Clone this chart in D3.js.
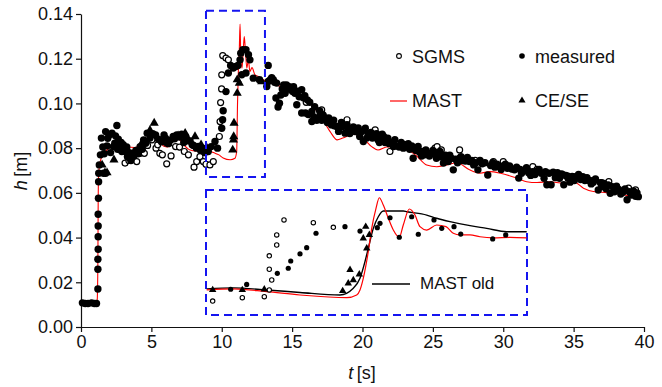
<!DOCTYPE html>
<html><head><meta charset="utf-8">
<script src="https://cdn.jsdelivr.net/npm/d3@7/dist/d3.min.js"></script>
<style>
html,body{margin:0;padding:0;background:#fff;}
svg{display:block;font-family:"Liberation Sans",Arial,Helvetica,sans-serif;}
</style></head>
<body><svg id="chart" width="662" height="387"></svg>
<script>
// ---------------- data ----------------
const xTicks = [0, 5, 10, 15, 20, 25, 30, 35, 40];
const yTicks = [0, 0.02, 0.04, 0.06, 0.08, 0.10, 0.12, 0.14];
const legendLabels = ["SGMS", "measured", "MAST", "CE/SE", "MAST old"];

// MAST (red line), [t, h]
const mast = [[0.1,0.0105],[1.05,0.0105],[1.15,0.012],[1.2,0.03],[1.22,0.055],[1.25,0.068],[1.3,0.0715],[1.4,0.0748],
[1.6,0.0775],[1.9,0.0795],[2.3,0.0815],[2.6,0.0825],[2.9,0.0822],[3.3,0.0805],[3.8,0.0803],[4.2,0.0808],[4.6,0.081],
[4.85,0.0835],[5.05,0.0865],[5.3,0.0855],[5.6,0.083],[5.9,0.0808],[6.15,0.0805],[6.45,0.083],[6.75,0.0845],[7.0,0.0838],
[7.3,0.0815],[7.7,0.0793],[8.2,0.0787],[8.6,0.0795],[9.0,0.0792],[9.4,0.078],[9.8,0.077],[10.1,0.0756],[10.6,0.0748],
[10.94,0.0755],[11.06,0.0785],[11.12,0.0997],[11.18,0.1143],[11.25,0.1247],[11.3,0.1355],[11.35,0.1218],[11.44,0.1158],
[11.53,0.124],[11.6,0.1299],[11.67,0.1247],[11.78,0.1158],[11.89,0.1195],[12.0,0.1143],[12.15,0.116],[12.36,0.1128],
[12.6,0.112],[12.95,0.1106],[13.3,0.1095],[13.9,0.1083],[14.6,0.1061],[15.3,0.1038],[16.0,0.1016],[16.5,0.0986],
[17.1,0.0936],[17.7,0.0874],[18.2,0.0837],[18.6,0.0845],[19.35,0.0862],[20.06,0.0843],[20.65,0.0807],[21.1,0.0792],
[21.7,0.0805],[22.43,0.0807],[23.14,0.0795],[23.85,0.0765],[24.56,0.0725],[25.27,0.0717],[26.0,0.0725],[26.7,0.0735],
[27.6,0.0703],[28.35,0.0688],[29.06,0.0695],[29.8,0.0688],[30.95,0.0666],[31.66,0.065],[32.4,0.0646],[33.3,0.065],
[34.27,0.0643],[35.0,0.065],[35.7,0.0621],[36.4,0.0606],[37.35,0.0601],[38.3,0.0595],[39.5,0.058],[39.7,0.058]];

// measured (filled circles), [t, h]
const measured = [[0.1,0.0108],[0.3,0.0105],[0.5,0.0105],[0.75,0.0108],[0.95,0.0105],[1.1,0.0105],
[1.2,0.017],[1.2,0.0258],[1.2,0.0303],[1.22,0.0348],[1.22,0.0404],[1.22,0.0452],[1.22,0.0504],[1.24,0.0576],[1.25,0.065],[1.26,0.0688],
[1.3,0.0725],[1.38,0.077],[1.45,0.0845],[1.55,0.0805],[1.6,0.0688],[1.65,0.0775],[1.75,0.0688],[1.75,0.0874],[1.85,0.081],[1.9,0.0844],
[2.0,0.0859],[2.1,0.078],[2.2,0.0867],[2.3,0.0807],[2.4,0.0822],[2.45,0.0855],[2.55,0.0901],[2.6,0.0795],[2.65,0.084],[2.75,0.0822],
[2.85,0.0825],[2.9,0.0785],[3.0,0.0815],[3.05,0.0795],[3.15,0.0785],[3.25,0.0805],[3.3,0.0762],[3.45,0.0755],[3.55,0.0745],[3.6,0.0777],
[3.75,0.0765],[3.9,0.079],[4.05,0.0775],[4.2,0.0807],[4.35,0.0795],[4.45,0.0837],[4.6,0.0822],[4.7,0.0867],[4.9,0.0845],[5.1,0.0865],
[5.3,0.0859],[5.5,0.084],[5.7,0.083],[5.9,0.0859],[6.0,0.0845],[6.2,0.082],[6.35,0.0835],[6.55,0.0852],[6.65,0.0842],[6.8,0.0859],
[7.0,0.085],[7.15,0.0862],[7.3,0.0825],[7.45,0.0845],[7.55,0.0833],[7.75,0.0832],[7.9,0.0815],[8.0,0.0812],[8.2,0.08],[8.35,0.0808],
[8.5,0.079],[8.65,0.08],[8.8,0.078],[8.95,0.0795],
[9.04,0.0785],[9.25,0.0807],[9.52,0.083],[9.7,0.08],[10.0,0.0889],[10.06,0.0927],[10.1,0.0967],[10.3,0.1053],[10.47,0.1136],
[10.63,0.117],[10.82,0.1158],[11.0,0.1165],[11.15,0.117],[11.3,0.1195],[11.35,0.1225],[11.5,0.124],[11.72,0.124],[11.9,0.1218],
[12.0,0.1195],[11.42,0.1128],[11.72,0.1136],[12.24,0.1113],[12.67,0.1106],[13.2,0.1076],[13.3,0.117],
[13.3,0.1098],[13.45,0.1106],[13.55,0.1115],[13.66,0.1106],[13.75,0.1095],[13.85,0.1024],[13.9,0.1091],[14.0,0.0984],[14.1,0.1001],
[14.2,0.1038],[14.3,0.1065],[14.4,0.1083],[14.5,0.1045],[14.6,0.1083],[14.7,0.1068],[14.8,0.1075],[14.9,0.1061],[15.04,0.1053],
[15.1,0.1075],[15.2,0.1045],[15.33,0.0994],[15.4,0.1055],[15.5,0.103],[15.68,0.1061],[15.68,0.0957],[15.8,0.1025],[15.9,0.1035],
[15.95,0.0957],[16.08,0.1016],[16.15,0.095],[16.25,0.1005],[16.4,0.0964],[16.4,0.0919],[16.55,0.094],[16.6,0.0985],[16.75,0.0925],
[16.86,0.0934],[16.95,0.0968],[17.0,0.0957],[17.1,0.0925],[17.2,0.0949],[17.35,0.0935],[17.5,0.0915],[17.6,0.0935],[17.7,0.0912],
[17.8,0.0904],[17.95,0.0925],[18.0,0.09],[18.17,0.0897],[18.3,0.0875],[18.4,0.0893],[18.5,0.0915],[18.6,0.0897],[18.76,0.0867],
[18.9,0.0905],[19.0,0.0885],[19.1,0.0865],[19.2,0.0878],[19.35,0.0895],[19.47,0.0874],[19.6,0.0874],[19.7,0.089],[19.8,0.0852],
[19.95,0.0875],[20.06,0.083],[20.2,0.0889],[20.3,0.0845],[20.4,0.0865],[20.5,0.0859],[20.6,0.087],[20.7,0.0845],[20.9,0.0852],
[21.0,0.0865],[21.1,0.0838],[21.2,0.0825],[21.3,0.084],[21.4,0.0862],[21.5,0.0852],[21.6,0.0825],[21.7,0.0835],[21.8,0.0845],
[21.9,0.082],[22.05,0.0825],[22.2,0.0807],[22.3,0.0838],[22.4,0.081],[22.6,0.0805],[22.75,0.0825],[22.9,0.08],[23.0,0.0815],
[23.1,0.0805],[23.25,0.082],[23.35,0.0795],[23.5,0.081],[23.6,0.0755],[23.7,0.0795],[23.8,0.079],[23.95,0.0808],[24.05,0.0782],
[24.2,0.0765],[24.3,0.0785],[24.4,0.077],[24.5,0.0792],[24.6,0.0778],[24.75,0.0765],[24.9,0.0775],[25.0,0.079],[25.1,0.0775],
[25.25,0.0755],[25.4,0.077],[25.5,0.0785],[25.6,0.076],[25.75,0.0733],[25.9,0.0768],[26.0,0.0748],[26.1,0.074],[26.2,0.0768],
[26.3,0.0755],[26.45,0.0703],[26.6,0.075],[26.75,0.0735],[26.9,0.0755],[27.0,0.0762],[27.1,0.0745],[27.3,0.0742],[27.45,0.0758],
[27.6,0.074],[27.75,0.0745],[27.9,0.0725],[28.05,0.0735],[28.2,0.0703],[28.35,0.0745],[28.5,0.073],[28.7,0.0735],[28.9,0.068],
[29.1,0.0722],[29.25,0.0735],[29.4,0.0715],[29.55,0.0728],[29.7,0.0718],[29.85,0.0705],[30.0,0.072],[30.15,0.0728],[30.3,0.071],
[30.45,0.072],[30.6,0.0707],[30.8,0.0703],[30.95,0.0715],[31.1,0.0666],[31.2,0.0705],[31.3,0.0688],[31.5,0.07],[31.65,0.0712],
[31.8,0.069],[31.95,0.0678],[32.1,0.0695],[32.25,0.0682],[32.4,0.0698],[32.55,0.0705],[32.7,0.0688],[32.9,0.0665],[33.0,0.0695],
[33.1,0.0636],[33.25,0.0688],[33.4,0.0636],[33.55,0.0692],[33.7,0.0668],[33.85,0.069],[34.0,0.0665],[34.15,0.0685],[34.3,0.0636],
[34.45,0.0678],[34.6,0.0665],[34.75,0.0648],[34.9,0.0673],[35.05,0.0655],[35.2,0.067],[35.35,0.0682],[35.5,0.066],[35.65,0.0672],
[35.8,0.0655],[35.95,0.0668],[36.1,0.0655],[36.25,0.064],[36.4,0.0648],[36.55,0.0662],[36.75,0.0613],[36.9,0.0645],[37.0,0.0628],
[37.15,0.0642],[37.3,0.0618],[37.45,0.0635],[37.6,0.0598],[37.75,0.0628],[37.9,0.0605],[38.05,0.063],[38.2,0.0615],[38.35,0.0595],
[38.5,0.0603],[38.65,0.0618],[38.8,0.0569],[38.95,0.0605],[39.1,0.059],[39.25,0.0608],[39.4,0.0585],[39.5,0.06],[39.6,0.0583]];

// SGMS (open circles), [t, h]
const sgms = [[3.13,0.0733],[3.4,0.0745],[3.96,0.074],[4.2,0.0777],[4.5,0.0777],[4.73,0.0812],[5.04,0.0837],[5.33,0.08],
[5.45,0.0815],[5.6,0.0777],[5.78,0.077],[6.09,0.073],[6.4,0.0765],[6.72,0.0807],[7.0,0.0805],[7.34,0.0785],[7.63,0.077],
[8.03,0.0715],[8.22,0.074],[8.45,0.0762],[8.69,0.074],[8.88,0.0728],[9.16,0.0725],[9.4,0.074],[9.83,0.0852],[9.88,0.0919],
[9.92,0.1004],[9.99,0.1065],[10.0,0.1128],[10.07,0.1214],[10.3,0.1203],[10.47,0.1195],
[14.5,0.1065],[16.0,0.1005],[17.1,0.0971],[18.9,0.0927],[20.9,0.0882],[21.95,0.0785],[22.9,0.0815],[24.0,0.079],[25.15,0.08],
[25.3,0.0807],[25.6,0.0792],[26.9,0.0792],[28.0,0.0745],[29.3,0.074],[30.0,0.074],[31.66,0.0703],[32.1,0.0717],[32.4,0.0705],
[34.27,0.068],[34.6,0.0675],[35.0,0.0673],[36.2,0.0655],[37.0,0.0646],[37.5,0.065],[38.9,0.0621],[39.4,0.0613]];

// CE/SE (triangles), [t, h]
const cese = [[1.5,0.0725],[1.7,0.069],[1.85,0.069],[2.34,0.0748],[2.9,0.079],[3.4,0.0785],[4.3,0.082],[4.9,0.088],
[5.2,0.0912],[5.85,0.0825],[6.2,0.082],[6.9,0.0855],[7.4,0.0867],[7.6,0.0842],[8.1,0.0852],[8.53,0.0815],[8.95,0.080],
[10.78,0.0792],[10.83,0.0837],[10.85,0.0852],[10.87,0.0912],[11.1,0.1046],[11.1,0.1106],[11.25,0.1091],[12.84,0.1098]];

// ---- inset (zoom of the dashed window) ----
const insetWindowT = [8.88, 13.07];
const insetWindowH = [0.0671, 0.1414];
const insetSgms = [[8.967,0.0754],[9.354,0.0774],[9.641,0.078],[9.706,0.082],[9.738,0.0879],[9.706,0.0943],[9.706,0.1023],
[9.803,0.1087],[9.803,0.1147],[9.898,0.1236],[10.281,0.122],[10.542,0.1192]];
const insetMeasured = [[9.202,0.0824],[9.411,0.0853],[9.811,0.0919],[9.954,0.0949],[9.986,0.0992],[10.107,0.1034],[10.194,0.1071],
[10.316,0.1157],[10.694,0.1196],[10.89,0.117],[11.116,0.119],[11.151,0.1216],[11.282,0.1249],[11.403,0.1133],[11.565,0.1255],
[11.651,0.1151],[11.856,0.1236],[11.957,0.1186],[12.117,0.1196],[12.205,0.1152],[12.622,0.1123],[12.792,0.1147]];
const insetCese = [[8.967,0.082],[9.354,0.082],[9.641,0.0824],[10.664,0.0814],[10.737,0.0859],[10.803,0.0879],[10.76,0.0939],
[10.881,0.0913],[10.978,0.1067],[10.933,0.1127],[10.965,0.1196],[11.012,0.1147]];
const insetMast = [[8.889,0.082],[9.236,0.0826],[9.672,0.081],[10.107,0.079],[10.717,0.0774],[10.847,0.079],[10.89,0.082],
[10.933,0.0889],[10.998,0.1047],[11.043,0.1186],[11.099,0.1305],[11.142,0.1368],[11.194,0.1325],[11.26,0.1246],[11.325,0.1176],
[11.403,0.1133],[11.455,0.1206],[11.534,0.1301],[11.608,0.1265],[11.673,0.1196],[11.761,0.1176],[11.891,0.1206],[12.013,0.1196],
[12.108,0.1157],[12.195,0.1147],[12.326,0.1147],[12.456,0.1136],[12.63,0.113],[12.848,0.1133],[13.066,0.113]];
const insetMastOld = [[8.889,0.0826],[9.236,0.0832],[9.672,0.082],[10.107,0.0805],[10.629,0.079],[10.803,0.083],[10.89,0.0889],
[10.955,0.0988],[10.998,0.1067],[11.064,0.1186],[11.129,0.1255],[11.194,0.1289],[11.455,0.1289],[11.5,0.1285],[11.761,0.1265],
[11.891,0.1246],[12.065,0.1226],[12.326,0.1202],[12.544,0.1186],[12.805,0.1166],[13.066,0.1166]];

// ---------------- drawing ----------------
const svg = d3.select("#chart");
const FONT = 18;
const x = d3.scaleLinear().domain([0, 40]).range([81, 644]);
const y = d3.scaleLinear().domain([0, 0.14]).range([327, 14]);
const ix = d3.scaleLinear().domain(insetWindowT).range([206, 527]);
const iy = d3.scaleLinear().domain(insetWindowH).range([315, 190]);

const BLUE = "#1515f0";

// axes
const gx = svg.append("g").attr("transform", `translate(0,${y(0)})`)
  .call(d3.axisBottom(x).tickValues(xTicks).tickSize(5).tickSizeOuter(0).tickPadding(3).tickFormat(d3.format("d")));
const gy = svg.append("g").attr("transform", `translate(${x(0)},0)`)
  .call(d3.axisLeft(y).tickValues(yTicks).tickSize(5).tickSizeOuter(0).tickPadding(3).tickFormat(d3.format(".2f")));
[gx, gy].forEach(g => {
  g.selectAll("text").attr("font-size", FONT).attr("fill", "#111").attr("font-family", "Liberation Sans, Arial, sans-serif");
  g.selectAll("line,path").attr("stroke", "#111").attr("stroke-width", 1.2);
});

// axis titles
svg.append("text").attr("x", 362).attr("y", 379).attr("text-anchor", "middle").attr("font-size", FONT).attr("fill", "#111")
  .call(t => { t.append("tspan").attr("font-style", "italic").text("t"); t.append("tspan").text("\u2009[s]"); });
svg.append("text").attr("transform", "translate(27,171) rotate(-90)").attr("text-anchor", "middle").attr("font-size", FONT).attr("fill", "#111")
  .call(t => { t.append("tspan").attr("font-style", "italic").text("h"); t.append("tspan").text("\u2009[m]"); });

const tri = (s) => d3.symbol(d3.symbolTriangle).size(s)();
const lineMain = d3.line().x(d => x(d[0])).y(d => y(d[1])).curve(d3.curveMonotoneX);
const lineInset = d3.line().x(d => ix(d[0])).y(d => iy(d[1])).curve(d3.curveMonotoneX);

// main series
svg.append("path").attr("d", lineMain(mast)).attr("fill", "none").attr("stroke", "#ff0000").attr("stroke-width", 1.1);
svg.append("g").selectAll("circle").data(sgms).join("circle")
  .attr("cx", d => x(d[0])).attr("cy", d => y(d[1])).attr("r", 3)
  .attr("fill", "#fff").attr("stroke", "#000").attr("stroke-width", 1.2);
svg.append("g").selectAll("circle").data(measured).join("circle")
  .attr("cx", d => x(d[0])).attr("cy", d => y(d[1])).attr("r", 3.7).attr("fill", "#000");
svg.append("g").selectAll("path").data(cese).join("path")
  .attr("transform", d => `translate(${x(d[0])},${y(d[1])})`).attr("d", tri(36)).attr("fill", "#000");

// small dashed window
svg.append("rect").attr("x", x(insetWindowT[0])).attr("y", y(insetWindowH[1]))
  .attr("width", x(insetWindowT[1]) - x(insetWindowT[0])).attr("height", y(insetWindowH[0]) - y(insetWindowH[1]))
  .attr("fill", "none").attr("stroke", BLUE).attr("stroke-width", 2).attr("stroke-dasharray", "8,5");

// inset
svg.append("rect").attr("x", 206).attr("y", 190).attr("width", 321).attr("height", 125)
  .attr("fill", "#fff").attr("stroke", BLUE).attr("stroke-width", 2).attr("stroke-dasharray", "8,5");
svg.append("path").attr("d", lineInset(insetMastOld)).attr("fill", "none").attr("stroke", "#000").attr("stroke-width", 1.4);
svg.append("path").attr("d", lineInset(insetMast)).attr("fill", "none").attr("stroke", "#ff0000").attr("stroke-width", 1.2);
svg.append("g").selectAll("circle").data(insetSgms).join("circle")
  .attr("cx", d => ix(d[0])).attr("cy", d => iy(d[1])).attr("r", 2.2)
  .attr("fill", "#fff").attr("stroke", "#000").attr("stroke-width", 1.1);
svg.append("g").selectAll("circle").data(insetMeasured).join("circle")
  .attr("cx", d => ix(d[0])).attr("cy", d => iy(d[1])).attr("r", 2.6).attr("fill", "#000");
svg.append("g").selectAll("path").data(insetCese).join("path")
  .attr("transform", d => `translate(${ix(d[0])},${iy(d[1])})`).attr("d", tri(24)).attr("fill", "#000");
// inset legend
svg.append("line").attr("x1", 372).attr("x2", 410).attr("y1", 284).attr("y2", 284).attr("stroke", "#000").attr("stroke-width", 1.3);
svg.append("text").attr("x", 420).attr("y", 288.5).attr("font-size", 17).attr("fill", "#111").text(legendLabels[4]);

// main legend
const lg = svg.append("g").attr("font-size", FONT).attr("fill", "#111");
lg.append("circle").attr("cx", 399).attr("cy", 56).attr("r", 2.4).attr("fill", "#fff").attr("stroke", "#000").attr("stroke-width", 1.1);
lg.append("text").attr("x", 412).attr("y", 62.5).text(legendLabels[0]);
lg.append("circle").attr("cx", 522).attr("cy", 56).attr("r", 2.8).attr("fill", "#000");
lg.append("text").attr("x", 535).attr("y", 62.5).text(legendLabels[1]);
lg.append("line").attr("x1", 390).attr("x2", 407).attr("y1", 101).attr("y2", 101).attr("stroke", "#ff0000").attr("stroke-width", 1.2);
lg.append("text").attr("x", 412).attr("y", 107).text(legendLabels[2]);
lg.append("path").attr("transform", "translate(522,100.5)").attr("d", tri(22)).attr("fill", "#000");
lg.append("text").attr("x", 535).attr("y", 107).text(legendLabels[3]);
</script></body></html>
